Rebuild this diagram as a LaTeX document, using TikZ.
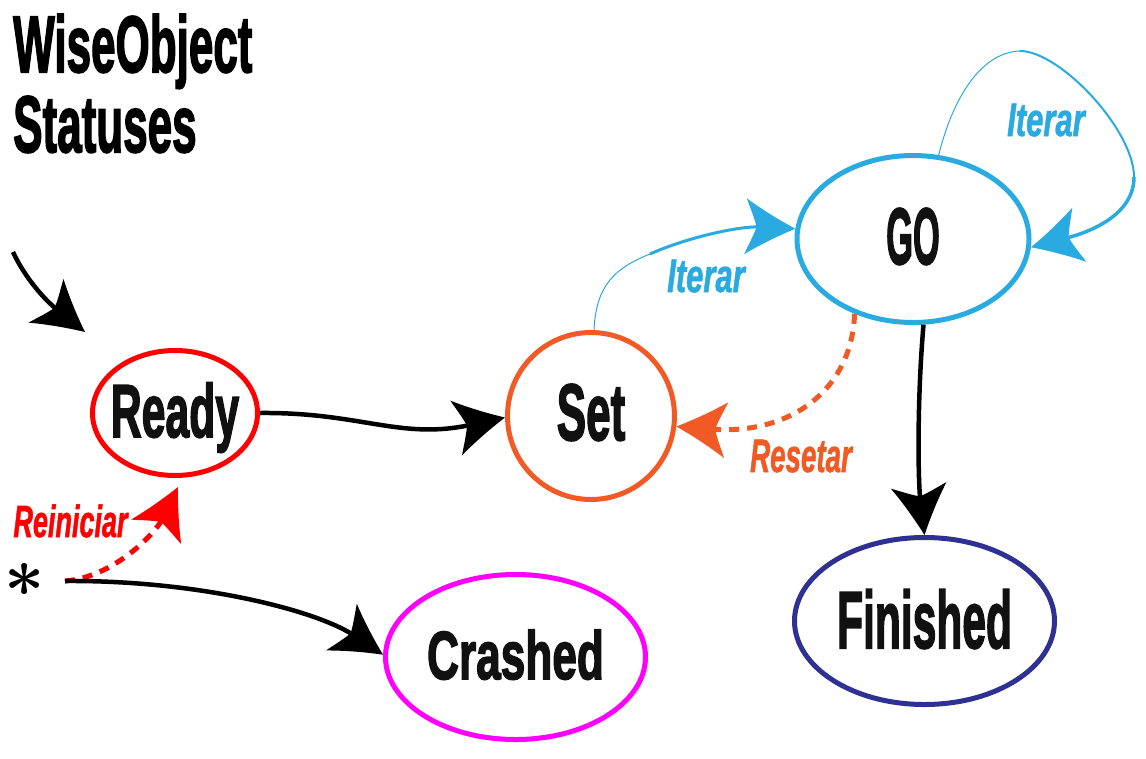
\documentclass[tikz,border=0pt]{standalone}
\usepackage{fontspec}
\usepackage{graphicx}
\usetikzlibrary{shapes.geometric,calc,arrows.meta}
\newfontfamily\lab{Liberation Sans}[BoldFeatures={FakeBold=2.5},BoldItalicFeatures={FakeBold=1.5}]
\definecolor{cred}{HTML}{FF0000}
\definecolor{corange}{HTML}{F15A24}
\definecolor{cblue}{HTML}{29ABE2}
\definecolor{cnavy}{HTML}{2E3192}
\definecolor{cmag}{HTML}{FF00FF}
\definecolor{ctext}{HTML}{111111}

\pgfdeclarearrow{
  name = Swoop,
  setup code = {
    \pgfarrowssettipend{0pt}
    \pgfarrowssetbackend{-50pt}
    \pgfarrowssetlineend{-36pt}
    \pgfarrowshullpoint{0pt}{0pt}
    \pgfarrowshullpoint{-50pt}{28pt}
    \pgfarrowshullpoint{-50pt}{-28pt}
  },
  drawing code = {
    \pgfpathmoveto{\pgfqpoint{0pt}{0pt}}
    \pgfpathcurveto{\pgfqpoint{-17pt}{8pt}}{\pgfqpoint{-35pt}{18pt}}{\pgfqpoint{-50pt}{28pt}}
    \pgfpathcurveto{\pgfqpoint{-44pt}{14pt}}{\pgfqpoint{-40pt}{5pt}}{\pgfqpoint{-39pt}{0pt}}
    \pgfpathcurveto{\pgfqpoint{-40pt}{-5pt}}{\pgfqpoint{-44pt}{-14pt}}{\pgfqpoint{-50pt}{-28pt}}
    \pgfpathcurveto{\pgfqpoint{-35pt}{-18pt}}{\pgfqpoint{-17pt}{-8pt}}{\pgfqpoint{0pt}{0pt}}
    \pgfpathclose
    \pgfusepathqfill
  }
}

\newcommand\BoldT[3]{\scalebox{#2}[1]{\fontsize{#1}{#1}\selectfont\lab\bfseries #3}}
\newcommand\ItalT[3]{\scalebox{#2}[1]{\fontsize{#1}{#1}\selectfont\lab\bfseries\itshape #3}}
\newcommand\Inside[2]{\makebox[0pt]{\smash{\raisebox{-#1}{#2}}}}

\begin{document}
\begin{tikzpicture}[x=1pt,y=-1pt,
  state/.style={ellipse, draw, line width=5pt, inner sep=0pt, text=ctext},
  conn/.style={line width=4.5pt, -{Swoop}},
  dashconn/.style={line width=5pt, dash pattern=on 10pt off 8pt, -{Swoop}},
  lbl/.style={inner sep=0pt, anchor=base},
  ttl/.style={inner sep=0pt, anchor=base west, text=black}]
\fill[white] (0,0) rectangle (1146,758);
\useasboundingbox (0,0) rectangle (1146,758);

% title
\node[ttl] (title1) at (13,72) {\BoldT{80}{0.55}{WiseObject}};
\node[ttl] (title2) at (13,152) {\BoldT{80}{0.55}{Statuses}};

% states
\node[state, draw=cred, minimum width=165pt, minimum height=125pt] (ready) at (175,413) {\Inside{24pt}{\BoldT{75}{0.57}{Ready}}};
\node[state, draw=corange, minimum width=167pt, minimum height=167pt] (set) at (591,416) {\Inside{24pt}{\BoldT{80}{0.55}{Set}}};
\node[state, draw=cblue, minimum width=232pt, minimum height=167pt] (go) at (913,239) {\Inside{25pt}{\BoldT{80}{0.43}{GO}}};
\node[state, draw=cnavy, minimum width=260pt, minimum height=167pt] (fin) at (924.5,621) {\Inside{27pt}{\BoldT{81}{0.525}{Finished}}};
\node[state, draw=cmag, minimum width=260pt, minimum height=165pt] (crashed) at (515.5,657) {\Inside{22pt}{\BoldT{68}{0.65}{Crashed}}};

% star
\node[inner sep=0pt] (star) at (25,596) {\smash{\scalebox{7}{\boldmath$\ast$}}};
\coordinate (sA) at (65,581);

% initial arrow
\coordinate (init) at (13,252);
\coordinate (initTip) at (85,332);
\draw[conn] (init) .. controls (25,278) and (45,300) .. (initTip);

% Ready -> Set
\draw[conn] (ready.east) .. controls (360,412) and (400,440) .. (set.181);

% Set -> GO (Iterar), tapered
\coordinate (mB) at (650,254);
\draw[cblue, line width=1pt, line cap=round] (set.88) .. controls (596,285) and (615,268) .. (mB);
\draw[cblue, line width=3pt, -{Swoop}] (mB) .. controls (688,237) and (740,226) .. (go.175);

% GO self loop (Iterar)
\coordinate (L1) at (1020,51);
\coordinate (L2) at (1134,177);
\draw[cblue, line width=1pt, line cap=round] (go.73) .. controls (955,90) and (985,52) .. (L1);
\draw[cblue, line width=2pt, line cap=round] (L1) .. controls (1060,51) and (1134,130) .. (L2);
\draw[cblue, line width=3.5pt, -{Swoop}] (L2) .. controls (1134,215) and (1090,232) .. (go.-4);

% GO -> Set (Resetar), dashed
\draw[dashconn, corange] (go.232) .. controls (852,390) and (790,435) .. (set.-7);

% GO -> Finished
\draw[conn] (go.-83) .. controls (917,400) and (918,480) .. (fin.north);

% * -> Ready (Reiniciar), dashed
\coordinate (rTip) at ($(ready.south)+(3,9)$);
\draw[dashconn, cred] (sA) .. controls (115,577) and (156,532) .. (rTip);

% * -> Crashed
\draw[conn] (sA) .. controls (200,580) and (317,611) .. (crashed.179);

% labels
\node[lbl, text=cblue] (lIter1) at (1046,136) {\ItalT{47}{0.66}{Iterar}};
\node[lbl, text=cblue] (lIter2) at (706,292) {\ItalT{47}{0.66}{Iterar}};
\node[lbl, text=corange] (lReset) at (801,472) {\ItalT{47}{0.59}{Resetar}};
\node[lbl, text=cred] (lReini) at (70.5,537) {\ItalT{45}{0.6}{Reiniciar}};
\end{tikzpicture}
\end{document}
